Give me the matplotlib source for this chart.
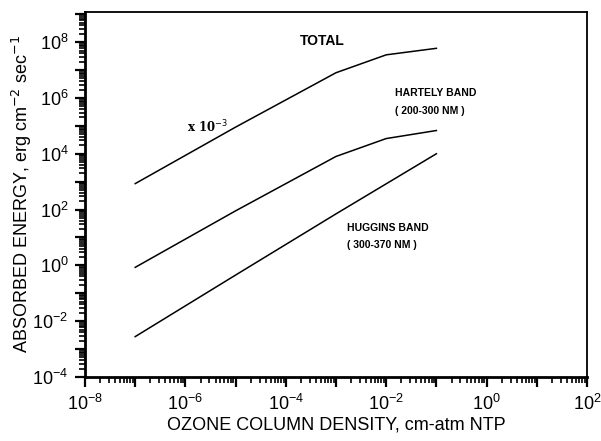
import numpy as np
import matplotlib.pyplot as plt
from matplotlib.ticker import LogLocator, NullFormatter

plt.rcParams["font.family"] = ["Liberation Sans", "DejaVu Sans"]

# ozone column density (cm-atm NTP)
total_x = [1e-7, 1e-5, 1e-3, 1e-2, 1e-1]
total_y = [8.5e2, 9e4, 8e6, 3.5e7, 6e7]

hartley_x = [1e-7, 1e-5, 1e-3, 1e-2, 1e-1]
hartley_y = [0.85, 90, 8e3, 3.5e4, 6.8e4]

huggins_x = [1e-7, 1e-5, 1e-3, 1e-1]
huggins_y = [2.8e-3, 0.45, 70, 1e4]

fig = plt.figure(figsize=(6.01, 4.41), dpi=100)
ax = fig.add_axes([85 / 601, 1 - 377 / 441, 502 / 601, 365 / 441])

for xs, ys in [(total_x, total_y), (hartley_x, hartley_y), (huggins_x, huggins_y)]:
    ax.plot(xs, ys, color="black", linewidth=1.1)

ax.set_xscale("log")
ax.set_yscale("log")
ax.set_xlim(1e-8, 1e2)
ax.set_ylim(1e-4, 1.2e9)

ax.xaxis.set_major_locator(LogLocator(base=10, numticks=20))
ax.yaxis.set_major_locator(LogLocator(base=10, numticks=20))
ax.xaxis.set_minor_locator(LogLocator(base=10, subs=np.arange(2, 10), numticks=20))
ax.yaxis.set_minor_locator(LogLocator(base=10, subs=np.arange(2, 10), numticks=20))
ax.xaxis.set_minor_formatter(NullFormatter())
ax.yaxis.set_minor_formatter(NullFormatter())


def fmt(v, pos):
    e = int(round(np.log10(v)))
    if e % 2 == 0:
        return r"$\mathregular{10^{%d}}$" % e
    return ""


ax.xaxis.set_major_formatter(plt.FuncFormatter(fmt))
ax.yaxis.set_major_formatter(plt.FuncFormatter(fmt))

ax.tick_params(which="major", direction="out", length=7, width=1.6, labelsize=13, pad=5)
ax.tick_params(which="minor", direction="out", length=4, width=1.2)
ax.tick_params(top=False, right=False)
for side in ["left", "bottom"]:
    ax.spines[side].set_linewidth(2)
for side in ["top", "right"]:
    ax.spines[side].set_linewidth(1.3)

ax.set_xlabel("OZONE COLUMN DENSITY, cm-atm NTP", fontsize=13, labelpad=2)
ax.set_ylabel(r"ABSORBED ENERGY, erg cm$^{-2}$ sec$^{-1}$", fontsize=13, labelpad=-1)

ax.text(1.9e-4, 1.1e8, "TOTAL", fontsize=10, fontweight="bold", va="center")
ax.text(1.07e-6, 9e4, r"x 10$^{-3}$", fontsize=8.5, fontweight="bold",
        family="DejaVu Serif", va="center")
ax.text(1.5e-2, 1.55e6, "HARTELY BAND", fontsize=7.5, fontweight="bold", va="center")
ax.text(1.5e-2, 3.5e5, "( 200-300 NM )", fontsize=7.5, fontweight="bold", va="center")
ax.text(1.65e-3, 21, "HUGGINS BAND", fontsize=7.5, fontweight="bold", va="center")
ax.text(1.65e-3, 5.4, "( 300-370 NM )", fontsize=7.5, fontweight="bold", va="center")

fig.savefig("out.png", dpi=100)
